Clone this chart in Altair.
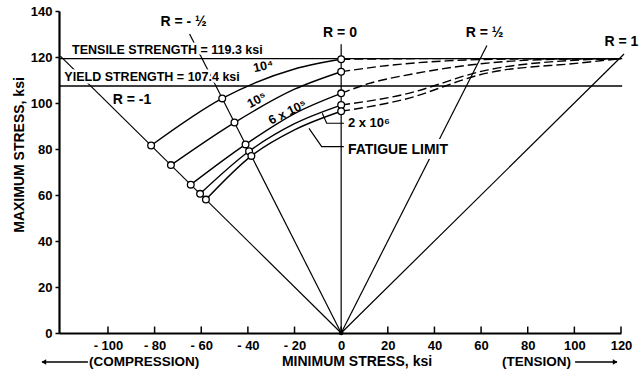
import altair as alt
import pandas as pd

FONT = "Liberation Sans"

# ---- values (ksi) ----
# stress-ratio lines R = min/max, drawn from the origin up to these maximum stresses
r_values = [-1.0, -0.5, 0.0, 0.5, 1.0]
r_line_top = [120.4, 130.0, 125.5, 125.0, 121.3]

tensile_strength = 119.3
yield_strength = 107.4

# constant-life curves: maximum stress where each curve crosses the R lines
life_names = ["1e4", "1e5", "6e5", "2e6", "fatigue"]
max_at_r_neg1 = [81.5, 73.0, 64.5, 60.5, 58.0]
max_at_r_neg_half = [102.0, 91.5, 82.0, 79.0, 77.0]
max_at_min_neg20 = [114.8, 106.0, 95.4, 91.0, 88.3]
max_at_r_zero = [119.0, 113.6, 104.2, 99.1, 96.4]

# dashed continuation from R = 0 toward the tensile strength at R = 1
dashed_min = [
    [0, 40, 120],
    [0, 20, 45, 80, 120],
    [0, 12, 30, 55, 85, 120],
    [0, 26, 62.5, 102.4, 120],
    [0, 26, 62.5, 102.4, 120],
]
dashed_max = [
    [119.0, 119.3, 119.3],
    [113.6, 116.3, 118.3, 119.2, 119.3],
    [104.2, 108.5, 112.5, 116.5, 118.8, 119.3],
    [99.1, 103.5, 114.3, 118.7, 119.3],
    [96.4, 101.3, 113.0, 117.4, 119.3],
]

x_ticks = [-100, -80, -60, -40, -20, 0, 20, 40, 60, 80, 100, 120]
y_ticks = [0, 20, 40, 60, 80, 100, 120, 140]

# ---- scales / axes ----
x_scale = alt.Scale(domain=[-121, 120], nice=False, zero=False)
y_scale = alt.Scale(domain=[0, 140], nice=False, zero=False)

x_axis = alt.Axis(
    values=x_ticks, title="", grid=False, ticks=False, labelPadding=6,
    labelExpr="datum.value < 0 ? '- ' + abs(datum.value) : datum.label",
    labelFont=FONT, labelFontSize=13, labelFontWeight="bold", labelColor="black",
    labelOverlap=False, labelFlush=False, domainColor="black", domainWidth=2.2,
)
y_axis = alt.Axis(
    values=y_ticks, title="", grid=False, tickSize=4, tickWidth=1.5,
    tickColor="black", labelPadding=3, labelFont=FONT, labelFontSize=13,
    labelFontWeight="bold", labelColor="black", labelOverlap=False,
    domainColor="black", domainWidth=2.2,
)

X = alt.X("x:Q", scale=x_scale, axis=x_axis)
Y = alt.Y("y:Q", scale=y_scale, axis=y_axis)

# ---- data tables ----
r_rows = []
for i, (r, top) in enumerate(zip(r_values, r_line_top)):
    r_rows.append({"x": 0.0, "y": 0.0, "g": i, "o": 0})
    r_rows.append({"x": r * top, "y": top, "g": i, "o": 1})
r_df = pd.DataFrame(r_rows)

solid_rows, dashed_rows, circle_rows = [], [], []
for i, name in enumerate(life_names):
    pts = [
        (-max_at_r_neg1[i], max_at_r_neg1[i]),
        (-0.5 * max_at_r_neg_half[i], max_at_r_neg_half[i]),
        (-20.0, max_at_min_neg20[i]),
        (0.0, max_at_r_zero[i]),
    ]
    for x, y in pts:
        solid_rows.append({"x": x, "y": y, "g": name})
    for j in (0, 1, 3):
        circle_rows.append({"x": pts[j][0], "y": pts[j][1]})
    for x, y in zip(dashed_min[i], dashed_max[i]):
        dashed_rows.append({"x": x, "y": y, "g": name})
solid_df = pd.DataFrame(solid_rows)
dashed_df = pd.DataFrame(dashed_rows)
circle_df = pd.DataFrame(circle_rows)

strength_df = pd.DataFrame({"y": [tensile_strength, yield_strength], "x": -121.0, "x2": 120.5})

# leader lines from the 2 x 10^6 and fatigue-limit curves to their labels
leader_df = pd.DataFrame({
    "x": [-8.1, -6.2, 1.2, -13.8, -8.35, 1.2],
    "y": [95.5, 91.2, 91.2, 89.0, 81.0, 81.0],
    "g": [0, 0, 0, 1, 1, 1],
    "o": [0, 1, 2, 0, 1, 2],
})

tick_df = pd.DataFrame({"x": x_ticks, "y": 0.0, "y2": 2.8})

# ---- marks ----
r_lines = alt.Chart(r_df).mark_line(color="black", strokeWidth=1.2).encode(
    X, Y, detail="g:N", order="o:Q")

solid = alt.Chart(solid_df).mark_line(
    color="black", strokeWidth=1.4, interpolate="monotone").encode(X, Y, detail="g:N")

dashed = alt.Chart(dashed_df).mark_line(
    color="black", strokeWidth=1.4, strokeDash=[9, 4], interpolate="monotone"
).encode(X, Y, detail="g:N")

leaders = alt.Chart(leader_df).mark_line(color="black", strokeWidth=1.2).encode(
    X, Y, detail="g:N", order="o:Q")

x_tick_marks = alt.Chart(tick_df).mark_rule(color="black", strokeWidth=1.5).encode(
    X, Y, y2="y2:Q")

strength = alt.Chart(strength_df).mark_rule(color="black", strokeWidth=1.3).encode(
    x=alt.X("x:Q", scale=x_scale, axis=x_axis), x2="x2:Q", y=Y)

circles = alt.Chart(circle_df).mark_point(
    shape="circle", size=45, filled=True, fill="white", stroke="black",
    strokeWidth=1.3, opacity=1).encode(X, Y)

origin_dot = alt.Chart(pd.DataFrame({"x": [0.0], "y": [0.0]})).mark_point(
    shape="circle", size=22, filled=True, color="black", opacity=1).encode(X, Y)

texts, halos = [], []


def note(text, x, y, size=13, align="center", angle=0, halo=0):
    df = pd.DataFrame({"x": [x], "y": [y], "t": [text]})
    props = dict(font=FONT, fontSize=size, fontWeight="bold", align=align,
                 baseline="middle", angle=angle)
    if halo:
        halos.append(alt.Chart(df).mark_text(
            color="white", stroke="white", strokeWidth=halo, strokeJoin="round",
            **props).encode(X, Y, text="t:N"))
    texts.append(alt.Chart(df).mark_text(color="black", **props).encode(
        X, Y, text="t:N"))


note("TENSILE STRENGTH = 119.3 ksi", -115.4, 123.0, size=12.5, align="left", halo=5)
note("YIELD STRENGTH = 107.4 ksi", -118.7, 111.2, size=12.5, align="left", halo=5)
note("R = -1", -89.7, 101.3, size=14)
note("R = - ½", -67.6, 135.2, size=14)
note("R = 0", -0.5, 130.4, size=14)
note("R = ½", 61.5, 130.4, size=14)
note("R = 1", 120.2, 126.5, size=14)
note("10⁴", -33.4, 116.0, size=12.5, angle=348)
note("10⁵", -36.2, 101.3, size=12.5, angle=332)
note("6 x 10⁵", -23.0, 96.0, size=12.5, angle=334)
note("2 x 10⁶", 2.9, 91.2, size=13, align="left", halo=4)
note("FATIGUE LIMIT", 2.9, 79.6, size=14, align="left", halo=10)
note("MAXIMUM STRESS, ksi", -137.9, 77.4, size=14, angle=270)
note("MINIMUM STRESS, ksi", 6.8, -12.6, size=14)
note("(COMPRESSION)", -108.1, -12.6, size=13.5, align="left")
note("(TENSION)", 69.0, -12.6, size=13.5, align="left")

# direction arrows under the axis
arrow_df = pd.DataFrame({"x": [-128.3, 100.3], "x2": [-108.6, 118.3], "y": [-12.6, -12.6]})
arrow_lines = alt.Chart(arrow_df).mark_rule(color="black", strokeWidth=1.4).encode(
    x=alt.X("x:Q", scale=x_scale, axis=x_axis), x2="x2:Q", y=Y)
heads = alt.layer(
    alt.Chart(pd.DataFrame({"x": [-127.5], "y": [-12.6]})).mark_point(
        shape="triangle-left", size=30, filled=True, color="black", opacity=1).encode(X, Y),
    alt.Chart(pd.DataFrame({"x": [117.5], "y": [-12.6]})).mark_point(
        shape="triangle-right", size=30, filled=True, color="black", opacity=1).encode(X, Y),
)

chart = alt.layer(
    r_lines, solid, dashed, leaders, x_tick_marks, *halos, strength,
    circles, origin_dot, *texts, arrow_lines, heads,
).properties(
    width=562, height=322,
    padding={"left": 59, "top": 11, "right": 23, "bottom": 42},
    autosize=alt.AutoSizeParams(type="none"),
    background="white",
).configure_view(stroke=None)

chart.save("out.html", embed_options={"renderer": "svg", "actions": False})
